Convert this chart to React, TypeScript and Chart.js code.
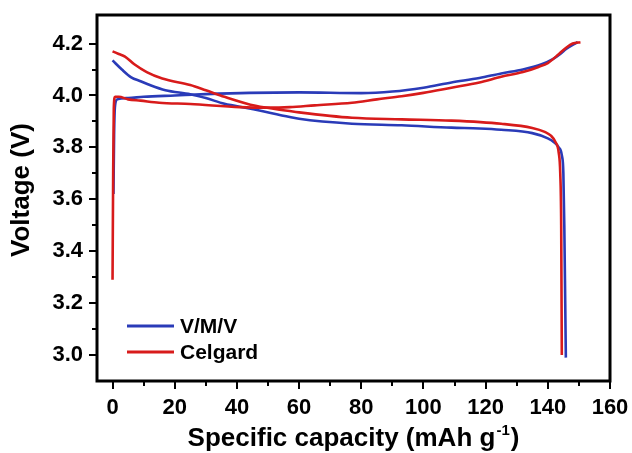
import React, { useEffect, useRef } from "react";
import { Chart, registerables } from "chart.js";

Chart.register(...registerables);

// ---- Data (specific capacity in mAh g-1, voltage in V) ----
const vmvChargeX = [0.3, 0.5, 0.8, 1.5, 5, 10, 20, 30, 44, 60, 80, 90, 100, 109, 118, 125, 132, 138, 141.6, 144, 146, 148, 149.6];
const vmvChargeY = [3.62, 3.85, 3.96, 3.985, 3.99, 3.995, 4.0, 4.005, 4.01, 4.012, 4.009, 4.015, 4.03, 4.05, 4.067, 4.085, 4.1, 4.12, 4.14, 4.16, 4.18, 4.195, 4.205];

const vmvDischargeX = [0, 3, 6, 9, 12, 17, 25, 30, 36, 44, 57, 60, 77, 93, 109, 118, 125, 135, 140, 142, 143.5, 144.5, 145, 145.3, 145.6, 145.8];
const vmvDischargeY = [4.135, 4.1, 4.07, 4.055, 4.04, 4.02, 4.005, 3.99, 3.968, 3.95, 3.917, 3.91, 3.891, 3.885, 3.876, 3.873, 3.868, 3.855, 3.835, 3.82, 3.8, 3.77, 3.7, 3.5, 3.2, 2.99];

const celChargeX = [0, 0.2, 0.4, 0.8, 2, 5, 9, 15, 25, 41, 50, 57, 65, 77, 85, 93, 100, 109, 118, 125, 132, 137, 140, 143.6, 146, 148, 150.5];
const celChargeY = [3.29, 3.7, 3.95, 3.995, 3.995, 3.985, 3.98, 3.972, 3.967, 3.955, 3.953, 3.955, 3.962, 3.972, 3.985, 3.997, 4.01, 4.03, 4.05, 4.072, 4.09, 4.11, 4.125, 4.16, 4.185, 4.2, 4.205];

const celDischargeX = [0, 2, 4, 7, 11, 16, 25, 30, 36, 46, 57, 60, 77, 93, 109, 125, 135, 139, 141, 142.5, 143.5, 144, 144.3, 144.5];
const celDischargeY = [4.17, 4.16, 4.15, 4.12, 4.09, 4.065, 4.04, 4.02, 3.995, 3.96, 3.94, 3.935, 3.914, 3.908, 3.903, 3.891, 3.875, 3.86, 3.845, 3.82, 3.78, 3.7, 3.5, 3.0];

const seriesNames = ["V/M/V", "Celgard"];
const seriesColors = ["#2a3bb8", "#d81b1b"];

const xTicks = [0, 20, 40, 60, 80, 100, 120, 140, 160];
const xMinorTicks = [10, 30, 50, 70, 90, 110, 130, 150];
const yTicks = [3.0, 3.2, 3.4, 3.6, 3.8, 4.0, 4.2];
const yMinorTicks = [3.1, 3.3, 3.5, 3.7, 3.9, 4.1];

const xTitle = "Specific capacity (mAh g";
const xTitleSup = "-1";
const xTitleEnd = ")";
const yTitle = "Voltage (V)";

const FONT = "'Liberation Sans', Arial, sans-serif";

const toPts = (xs: number[], ys: number[]) => xs.map((x, i) => ({ x, y: ys[i] }));

const decor = {
  id: "decor",
  afterDraw(chart: any) {
    const { ctx, chartArea: a, scales } = chart;
    const xs = scales.x;
    const ys = scales.y;
    ctx.save();
    ctx.strokeStyle = "#000";
    ctx.lineWidth = 2;
    // ticks
    ctx.beginPath();
    xTicks.forEach((v) => {
      const p = Math.round(xs.getPixelForValue(v));
      ctx.moveTo(p, a.bottom);
      ctx.lineTo(p, a.bottom + 8);
    });
    xMinorTicks.forEach((v) => {
      const p = Math.round(xs.getPixelForValue(v));
      ctx.moveTo(p, a.bottom);
      ctx.lineTo(p, a.bottom + 5);
    });
    yTicks.forEach((v) => {
      const p = Math.round(ys.getPixelForValue(v));
      ctx.moveTo(a.left, p);
      ctx.lineTo(a.left - 8, p);
    });
    yMinorTicks.forEach((v) => {
      const p = Math.round(ys.getPixelForValue(v));
      ctx.moveTo(a.left, p);
      ctx.lineTo(a.left - 5, p);
    });
    ctx.stroke();
    // frame
    ctx.lineWidth = 3;
    ctx.strokeRect(a.left, a.top, a.right - a.left, a.bottom - a.top);

    // legend
    const seen: string[] = [];
    const items: { label: string; color: string }[] = [];
    chart.data.datasets.forEach((d: any) => {
      if (!seen.includes(d.label)) {
        seen.push(d.label);
        items.push({ label: d.label, color: d.borderColor });
      }
    });
    items.sort((p, q) => seriesNames.indexOf(p.label) - seriesNames.indexOf(q.label));
    ctx.font = `bold 21px ${FONT}`;
    ctx.textAlign = "left";
    ctx.textBaseline = "middle";
    items.forEach((it, i) => {
      const y = 326 + i * 26;
      ctx.strokeStyle = it.color;
      ctx.lineWidth = 3;
      ctx.beginPath();
      ctx.moveTo(127, y);
      ctx.lineTo(174, y);
      ctx.stroke();
      ctx.fillStyle = "#000";
      ctx.fillText(it.label, 180, y + 1);
    });

    // x title
    ctx.fillStyle = "#000";
    ctx.textBaseline = "alphabetic";
    const big = `bold 26px ${FONT}`;
    const sup = `bold 15px ${FONT}`;
    ctx.font = big;
    const w1 = ctx.measureText(xTitle).width;
    const w3 = ctx.measureText(xTitleEnd).width;
    ctx.font = sup;
    const w2 = ctx.measureText(xTitleSup).width;
    const total = w1 + w2 + w3 + 2;
    let x0 = (a.left + a.right) / 2 - total / 2;
    const base = 446;
    ctx.font = big;
    ctx.fillText(xTitle, x0, base);
    x0 += w1 + 1;
    ctx.font = sup;
    ctx.fillText(xTitleSup, x0, base - 11);
    x0 += w2 + 1;
    ctx.font = big;
    ctx.fillText(xTitleEnd, x0, base);

    // y title
    ctx.translate(22, (a.top + a.bottom) / 2 - 8);
    ctx.rotate(-Math.PI / 2);
    ctx.textAlign = "center";
    ctx.textBaseline = "middle";
    ctx.font = `bold 26px ${FONT}`;
    ctx.fillText(yTitle, 0, 0);
    ctx.restore();
  },
};

export default function App() {
  const ref = useRef<HTMLCanvasElement>(null);
  useEffect(() => {
    if (!ref.current) return;
    const mk = (label: string, color: string, xs: number[], ys: number[]) => ({
      label,
      data: toPts(xs, ys),
      borderColor: color,
      backgroundColor: color,
      borderWidth: 2.6,
      pointRadius: 0,
      fill: false,
      cubicInterpolationMode: "monotone" as const,
    });
    const chart = new Chart(ref.current, {
      type: "line",
      data: {
        datasets: [
          mk(seriesNames[1], seriesColors[1], celChargeX, celChargeY),
          mk(seriesNames[1], seriesColors[1], celDischargeX, celDischargeY),
          mk(seriesNames[0], seriesColors[0], vmvChargeX, vmvChargeY),
          mk(seriesNames[0], seriesColors[0], vmvDischargeX, vmvDischargeY),
        ],
      },
      options: {
        responsive: false,
        animation: false,
        layout: { padding: { top: 15, right: 22, left: 0, bottom: 0 } },
        plugins: { legend: { display: false }, tooltip: { enabled: false } },
        scales: {
          x: {
            type: "linear",
            min: -5,
            max: 160,
            grid: { display: false, drawTicks: false, tickLength: 0 },
            border: { display: false },
            afterBuildTicks: (s: any) => {
              s.ticks = xTicks.map((v) => ({ value: v }));
            },
            afterFit: (s: any) => {
              s.height = 72;
              s.paddingLeft = 0;
              s.paddingRight = 0;
            },
            ticks: {
              padding: 14,
              color: "#000",
              maxRotation: 0,
              autoSkip: false,
              font: { family: FONT, size: 22, weight: "bold" },
              callback: (v: any) => String(v),
            },
          },
          y: {
            type: "linear",
            min: 2.9,
            max: 4.31,
            grid: { display: false, drawTicks: false, tickLength: 0 },
            border: { display: false },
            afterBuildTicks: (s: any) => {
              s.ticks = yTicks.map((v) => ({ value: v }));
            },
            afterFit: (s: any) => {
              s.width = 97;
              s.paddingTop = 0;
              s.paddingBottom = 0;
            },
            ticks: {
              padding: 14,
              color: "#000",
              autoSkip: false,
              font: { family: FONT, size: 22, weight: "bold" },
              callback: (v: any) => Number(v).toFixed(1),
            },
          },
        },
      },
      plugins: [decor],
    });
    return () => chart.destroy();
  }, []);
  return (
    <div style={{ position: "absolute", left: 0, top: 0, width: 632, height: 453, background: "#fff" }}>
      <canvas ref={ref} width={632} height={453} style={{ display: "block" }} />
    </div>
  );
}
